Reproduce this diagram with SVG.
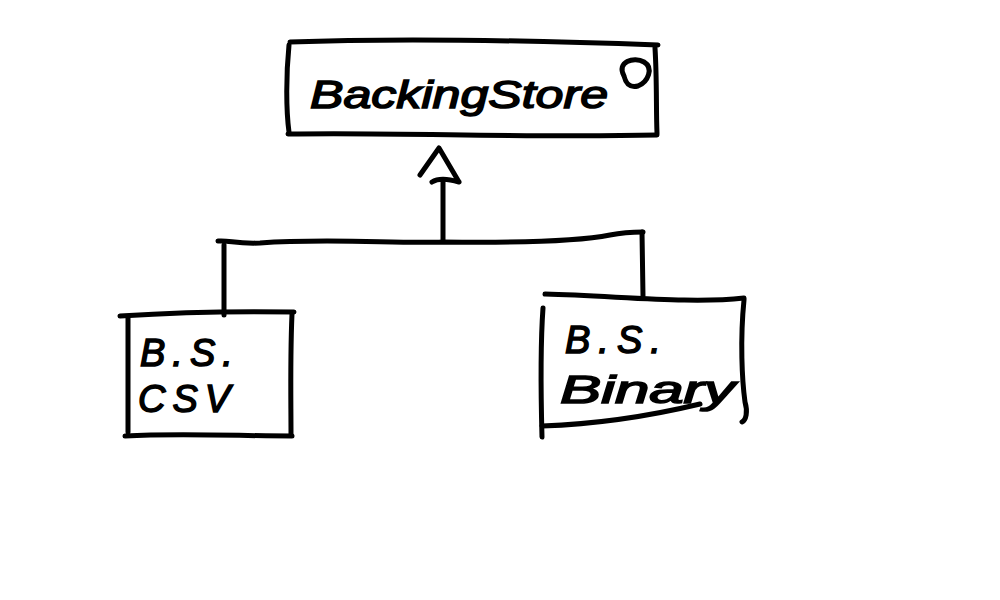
<svg xmlns="http://www.w3.org/2000/svg" width="1000" height="600" viewBox="0 0 1000 600">
  <style>
    .ink { fill: none; stroke: #000; stroke-width: 5; stroke-linecap: round; stroke-linejoin: round; }
    .hand { font-family: "Liberation Sans", Arial, sans-serif; fill: #000; stroke: #000; stroke-width: 1.5; font-style: italic; }
  </style>
  <rect width="1000" height="600" fill="#fff"/>
  <g id="backingstore">
    <path class="ink" d="M290,42 C400,38 520,40 658,45"/>
    <path class="ink" d="M289,45 C286,75 286,110 289,132"/>
    <path class="ink" d="M655,48 C657,80 656,110 657,133"/>
    <path class="ink" d="M288,134 C400,132 520,138 657,135"/>
    <text class="hand" x="310" y="108" font-size="38" textLength="298" lengthAdjust="spacingAndGlyphs">BackingStore</text>
    <path class="ink" d="M624,76 C616,62 634,56 644,62 C654,68 648,82 638,86 C630,88 626,84 624,76" stroke-width="3.5"/>
  </g>
  <g id="csv">
    <path class="ink" d="M120,316 C180,312 240,311 294,312"/>
    <path class="ink" d="M128,318 L128,432"/>
    <path class="ink" d="M292,314 C290,360 291,400 291,435"/>
    <path class="ink" d="M125,436 C180,433 240,436 292,436"/>
    <text class="hand" x="140" y="366" font-size="38" letter-spacing="7">B.S.</text>
    <text class="hand" x="138" y="412" font-size="38" letter-spacing="7">CSV</text>
  </g>
  <g id="binary">
    <path class="ink" d="M545,294 C620,296 690,304 744,298"/>
    <path class="ink" d="M543,308 C540,350 541,400 542,437"/>
    <path class="ink" d="M744,300 C740,340 742,380 745,402 C748,412 746,420 742,422"/>
    <path class="ink" d="M542,426 C600,424 650,416 700,404"/>
    <text class="hand" x="565" y="353" font-size="38" letter-spacing="8">B.S.</text>
    <text class="hand" x="560" y="403" font-size="38" textLength="175" lengthAdjust="spacingAndGlyphs">Binary</text>
  </g>
  <g id="connectors">
    <path class="ink" d="M443,240 L443,182"/>
    <path class="ink" d="M420,175 L439,148 L459,182 M432,182 C438,178 446,178 459,182"/>
    <path class="ink" d="M218,241 C230,240 235,244 260,243 C330,238 400,244 443,242 C520,243 580,241 610,235 C625,232 635,232 643,232"/>
    <path class="ink" d="M224,245 L224,315"/>
    <path class="ink" d="M642,232 L643,296"/>
  </g>
</svg>
